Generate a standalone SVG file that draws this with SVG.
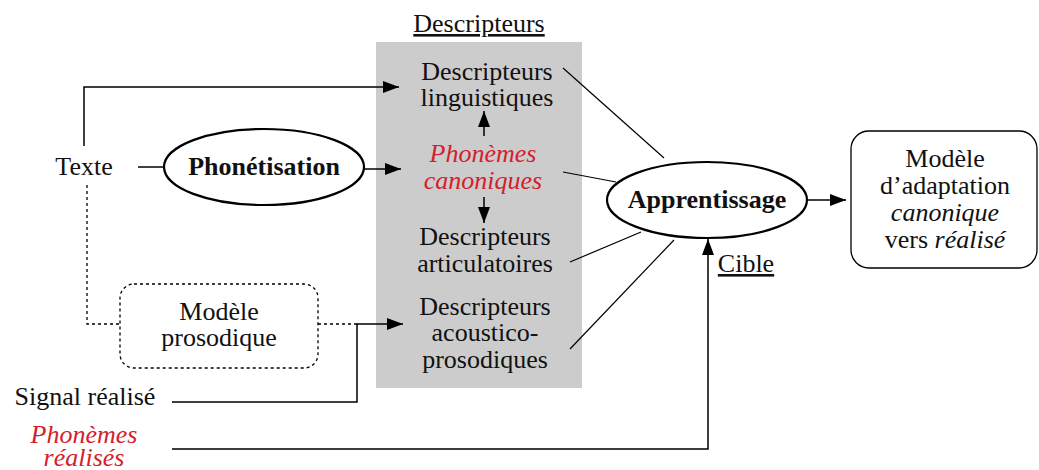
<svg xmlns="http://www.w3.org/2000/svg" width="1039" height="470" viewBox="0 0 1039 470">
<style>
text{font-family:"Liberation Serif","Times New Roman",serif;font-size:26px;fill:#111;text-anchor:middle}
.red{fill:#d4202c;font-style:italic}
.b{font-weight:bold}
.it{font-style:italic}
.u{text-decoration:underline}
.l{fill:none;stroke:#000;stroke-width:1.5}
.t{fill:none;stroke:#000;stroke-width:1.2}
.d{fill:none;stroke:#000;stroke-width:1.3;stroke-dasharray:3,3}
</style>
<defs>
<marker id="a" markerWidth="16" markerHeight="12" refX="16" refY="6" orient="auto" markerUnits="userSpaceOnUse">
<path d="M0,0 L16,6 L0,12 Z" fill="#000"/>
</marker>
</defs>
<g id="descripteurs">
<rect x="376" y="42" width="206" height="346" fill="#cccccc"/>
<text x="479" y="32" class="u">Descripteurs</text>
</g>
<g id="ling"><text x="487" y="80">Descripteurs</text><text x="487" y="106">linguistiques</text></g>
<g id="canon"><text x="483" y="162" class="red">Phonèmes</text><text x="483" y="189" class="red">canoniques</text></g>
<g id="artic"><text x="485" y="245">Descripteurs</text><text x="485" y="272">articulatoires</text></g>
<g id="acou"><text x="485" y="315">Descripteurs</text><text x="485" y="341">acoustico-</text><text x="485" y="368">prosodiques</text></g>
<g id="texte"><text x="84" y="175">Texte</text></g>
<g id="phon"><ellipse cx="264" cy="167" rx="100" ry="38" fill="#fff" stroke="#000" stroke-width="2.2"/><text x="264" y="175" class="b">Phonétisation</text></g>
<g id="prosod"><rect x="120" y="284" width="198" height="84" rx="14" fill="#fff" class="d"/><text x="219" y="320">Modèle</text><text x="219" y="346">prosodique</text></g>
<g id="signal"><text x="85" y="405">Signal réalisé</text></g>
<g id="realises"><text x="84" y="443" class="red">Phonèmes</text><text x="84" y="466" class="red">réalisés</text></g>
<g id="appr"><ellipse cx="707" cy="200" rx="100" ry="38" fill="#fff" stroke="#000" stroke-width="2.2"/><text x="707" y="208" class="b">Apprentissage</text></g>
<g id="cible"><text x="746" y="272" class="u">Cible</text></g>
<g id="modele"><rect x="851" y="131" width="186" height="137" rx="18" fill="#fff" stroke="#000" stroke-width="1.3"/>
<text x="945" y="167">Modèle</text><text x="945" y="194">d’adaptation</text><text x="945" y="221" class="it">canonique</text><text x="945" y="248">vers <tspan class="it">réalisé</tspan></text></g>
<g id="connectors">
<path class="l" d="M84,146 V87 H399" marker-end="url(#a)"/>
<path class="l" d="M138,167 H164"/>
<path class="l" d="M363,169 H401" marker-end="url(#a)"/>
<path class="l" d="M484,136 V111" marker-end="url(#a)"/>
<path class="l" d="M484,197 V223" marker-end="url(#a)"/>
<path class="d" d="M87,185 V324 H120"/>
<path class="d" d="M318,324 H357"/>
<path class="l" d="M172,402 H357 V324 H403" marker-end="url(#a)"/>
<path class="t" d="M563,68 L664,158"/>
<path class="t" d="M563,172 L616,182"/>
<path class="t" d="M570,262 L641,232"/>
<path class="t" d="M570,349 L674,240"/>
<path class="l" d="M172,449 H708 V239" marker-end="url(#a)"/>
<path class="l" d="M807,200 H846" marker-end="url(#a)"/>
</g>
</svg>
